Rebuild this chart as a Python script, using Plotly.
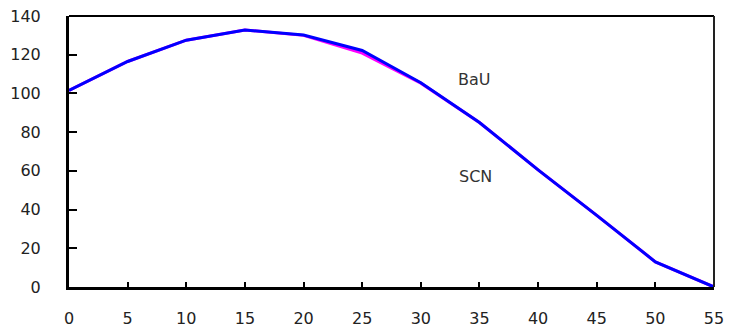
import plotly.graph_objects as go

years = [0, 5, 10, 15, 20, 25, 30, 35, 40, 45, 50, 55]
scn = [101.5, 116.5, 127.5, 132.8, 130.0, 120.8, 105.3, 85.0, 60.5, 37.0, 13.0, 0.0]
bau = [101.5, 116.5, 127.5, 132.8, 130.2, 122.2, 105.5, 85.0, 60.5, 37.0, 13.0, 0.0]
labels = ["BaU", "SCN"]
label_x = [34.6, 34.7]
label_y = [107, 57]

fig = go.Figure()
fig.add_trace(go.Scatter(x=years, y=scn, mode="lines", name="SCN",
                         line=dict(color="#FF00FF", width=3)))
fig.add_trace(go.Scatter(x=years, y=bau, mode="lines", name="BaU",
                         line=dict(color="#0000FF", width=3)))

for t, lx, ly in zip(labels, label_x, label_y):
    fig.add_annotation(x=lx, y=ly, text=t, showarrow=False,
                       font=dict(size=16, color="#333333", family="DejaVu Sans"))

fig.add_shape(type="line", xref="paper", yref="paper", x0=0, x1=1, y0=1, y1=1,
              line=dict(color="black", width=2))
fig.add_shape(type="line", xref="paper", yref="paper", x0=1, x1=1, y0=0, y1=1,
              line=dict(color="#222222", width=2))

fig.update_layout(
    width=732, height=331,
    margin=dict(l=69, r=18, t=16, b=44),
    paper_bgcolor="white", plot_bgcolor="white",
    showlegend=False,
    font=dict(family="DejaVu Sans", size=16, color="#222222"),
)
fig.update_xaxes(range=[0, 55], tickvals=years, showgrid=False, zeroline=False,
                 showline=True, linecolor="black", linewidth=3,
                 ticks="inside", ticklen=5, tickwidth=2, tickcolor="black",
                 ticklabelstandoff=15, automargin=False)
fig.update_yaxes(range=[0, 140], dtick=20, showgrid=False, zeroline=False,
                 showline=True, linecolor="black", linewidth=3,
                 ticks="inside", ticklen=8, tickwidth=2, tickcolor="black",
                 ticklabelstandoff=22, automargin=False)

fig.write_html("out.html")
